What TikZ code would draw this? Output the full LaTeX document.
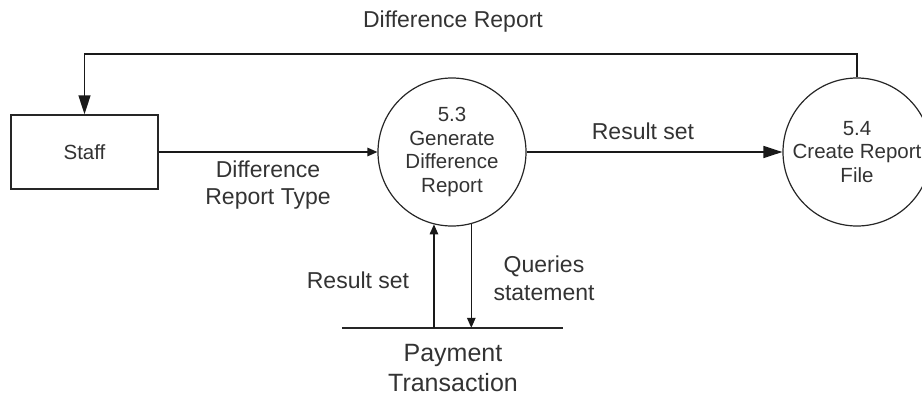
\documentclass[tikz,border=0pt]{standalone}
\usepackage{fontspec}
\setmainfont{Liberation Sans}
\usetikzlibrary{arrows.meta,positioning}

\tikzstyle{extbox} = [rectangle, minimum width=147pt, minimum height=74pt, draw=black!85, line width=1.4pt, text=black!80, font=\fontsize{20.5}{23.5}\selectfont]
\tikzstyle{process} = [circle, minimum size=148pt, inner sep=0pt, draw=black!85, line width=1.2pt, align=center, text=black!80, font=\fontsize{20.5}{23.5}\selectfont]
\tikzstyle{arrow} = [line width=1.4pt, draw=black!90, -{Triangle[length=19pt,width=12pt]}]
\tikzstyle{smallarrow} = [line width=1.4pt, draw=black!90, -{Triangle[length=10pt,width=8.5pt]}]
\tikzstyle{flowlabel} = [align=center, text=black!80, font=\fontsize{23}{28}\selectfont]

\begin{document}
\begin{tikzpicture}[x=1pt, y=-1pt]
\useasboundingbox (0,0) rectangle (922,408);

\node (staff) [extbox] at (84.5,152) {Staff};

\node (gen) [process] at (452,152) {5.3\\Generate\\Difference\\Report};

\node (crt) [process] at (857,152) {5.4\\Create Report\\File};

\node (store) [minimum width=221pt, minimum height=0pt, inner sep=0pt] at (452.5,328) {};

\coordinate (topline) at (0,54);

\node (lbltop) [flowlabel] at (453,22) {Difference Report};

\node (lblres) [flowlabel] at (643,131.5) {Result set};

\node (lbltype) [flowlabel, font=\fontsize{23}{27}\selectfont] at (268,185.5) {Difference\\Report Type};

\node (lblresstore) [flowlabel] at (358,280.5) {Result set};

\node (lblqry) [flowlabel] at (544,278.5) {Queries\\statement};

\node (paytxt) [flowlabel, font=\fontsize{25}{30}\selectfont] at (453,368) {Payment\\Transaction};

\draw[arrow] (crt.north) |- (staff.north |- topline) -- (staff.north);

\draw[smallarrow] (staff.east) -- (gen.west);

\draw[arrow] (gen.east) -- (crt.west);

\draw[line width=1.5pt, draw=black!85] (store.west) -- (store.east);

\draw[smallarrow] (gen.256 |- store.north) -- (gen.256);

\draw[smallarrow] (gen.285) -- (gen.285 |- store.north);

\end{tikzpicture}
\end{document}
